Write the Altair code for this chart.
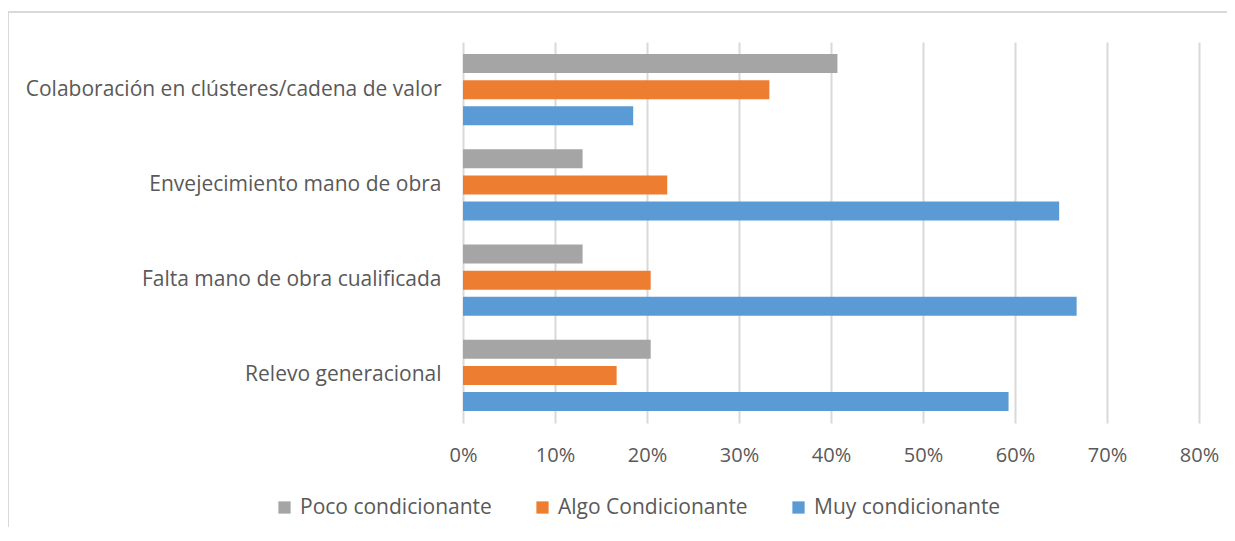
import altair as alt
import pandas as pd

categories = [
    "Colaboración en clústeres/cadena de valor",
    "Envejecimiento mano de obra",
    "Falta mano de obra cualificada",
    "Relevo generacional",
]
series = ["Poco condicionante", "Algo Condicionante", "Muy condicionante"]
poco = [0.407, 0.130, 0.130, 0.204]
algo = [0.333, 0.222, 0.204, 0.167]
muy = [0.185, 0.648, 0.667, 0.593]
colors = ["#A5A5A5", "#ED7D31", "#5B9BD5"]
tick_values = [0, 0.1, 0.2, 0.3, 0.4, 0.5, 0.6, 0.7, 0.8]

rows = []
for i, c in enumerate(categories):
    for s, vals in zip(series, [poco, algo, muy]):
        rows.append({"cat": c, "serie": s, "val": vals[i]})
df = pd.DataFrame(rows)

FONT = "Open Sans"
TXT = "#595959"

bars = alt.Chart(df).mark_bar(size=19).encode(
    y=alt.Y("cat:N", sort=categories, title=None,
            scale=alt.Scale(paddingInner=0, paddingOuter=0),
            axis=alt.Axis(domain=False, ticks=False, labelPadding=22,
                          labelFontSize=21, labelColor=TXT, labelFont=FONT,
                          labelLimit=600)),
    yOffset=alt.YOffset("serie:N", sort=series,
                        scale=alt.Scale(paddingInner=0, paddingOuter=0.32)),
    x=alt.X("val:Q", title=None,
            scale=alt.Scale(domain=[0, 0.8], nice=False),
            axis=alt.Axis(values=tick_values, format=".0%", domain=False,
                          ticks=False, labelPadding=22, labelFontSize=20,
                          labelFlush=False, labelColor=TXT, labelFont=FONT,
                          grid=True, gridColor="#D9D9D9", gridWidth=2)),
    color=alt.Color("serie:N", sort=series,
                    scale=alt.Scale(domain=series, range=colors),
                    legend=alt.Legend(title=None, orient="none",
                                      direction="horizontal",
                                      legendX=-189, legendY=455,
                                      symbolType="square", symbolSize=150,
                                      symbolStrokeWidth=0,
                                      labelFontSize=21, labelColor=TXT,
                                      labelFont=FONT, columnPadding=40,
                                      gridAlign="none",
                                      labelOffset=5, labelLimit=400)),
)

frame_top = alt.Chart(df).mark_rule(color="#D9D9D9", strokeWidth=1.5).encode(
    x=alt.value(-455), x2=alt.value(800), y=alt.value(-30))
frame_left = alt.Chart(df).mark_rule(color="#D9D9D9", strokeWidth=1.5).encode(
    x=alt.value(-455), y=alt.value(-30), y2=alt.value(500))

chart = alt.layer(frame_top, frame_left, bars).properties(
    width=736, height=381,
    autosize=alt.AutoSizeParams(type="none"),
    padding={"left": 455, "top": 34, "right": 28, "bottom": 104},
).configure_view(stroke=None)

chart.save("out.html", embed_options={"renderer": "svg", "actions": False})
